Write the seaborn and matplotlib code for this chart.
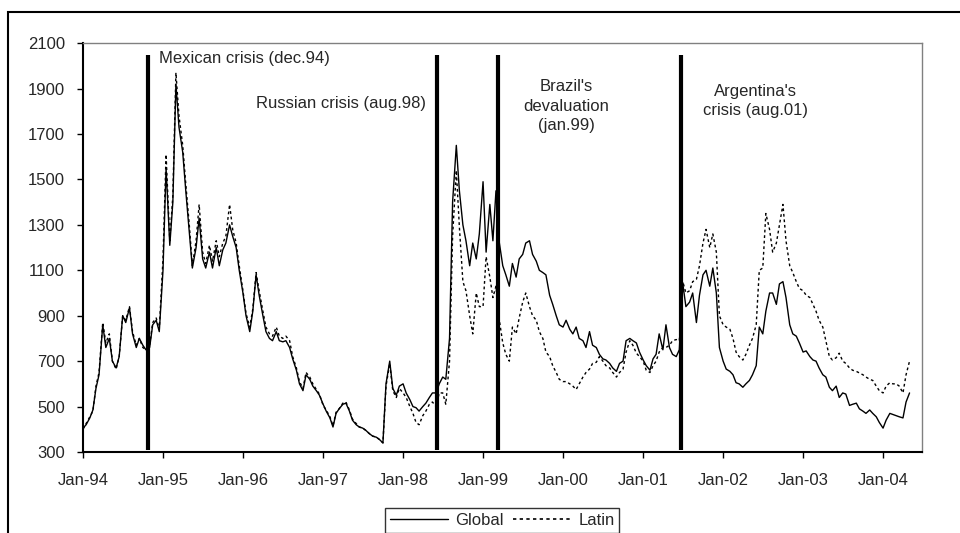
import pandas as pd
import seaborn as sns
import matplotlib.pyplot as plt
import matplotlib.dates as mdates
from matplotlib.lines import Line2D
from matplotlib.patches import Rectangle

# semi-monthly readings, Jan-94 .. Apr-04 (1st and 15th of each month)
global_spread = [
    405, 420, 450, 485, 580, 640, 860, 760, 800, 700, 670, 720,
    900, 870, 935, 820, 760, 800, 770, 750, 760, 860, 880, 830,
    1100, 1550, 1210, 1400, 1920, 1730, 1620, 1450, 1270, 1110, 1200, 1330,
    1150, 1110, 1180, 1110, 1200, 1120, 1190, 1220, 1300, 1250, 1200, 1100,
    1000, 900, 830, 920, 1080, 990, 900, 830, 800, 790, 830, 790,
    785, 790, 760, 710, 660, 600, 570, 640, 620, 590, 570, 550,
    510, 480, 450, 410, 470, 490, 510, 515, 480, 440, 420, 410,
    405, 395, 380, 370, 365, 355, 340, 600, 700, 580, 550, 590,
    600, 560, 530, 500, 495, 480, 500, 515, 540, 560, 560, 600,
    630, 620, 800, 1400, 1650, 1450, 1300, 1230, 1120, 1220, 1150, 1260,
    1490, 1180, 1390, 1230, 1450, 1230, 1120, 1080, 1030, 1130, 1070, 1150,
    1170, 1220, 1230, 1170, 1140, 1100, 1090, 1080, 990, 950, 900, 860,
    850, 880, 840, 820, 850, 800, 790, 760, 830, 770, 760, 730,
    710, 705, 690, 670, 655, 690, 700, 790, 800, 790, 780, 740,
    705, 680, 660, 710, 730, 820, 750, 860, 760, 730, 720, 750,
    1040, 940, 960, 1000, 870, 990, 1080, 1100, 1030, 1110, 1000, 760,
    700, 665, 655, 640, 605, 600, 585, 600, 615, 640, 680, 850,
    820, 920, 1000, 1000, 950, 1040, 1050, 980, 860, 820, 810, 780,
    740, 745, 720, 705, 700, 670, 640, 630, 585, 570, 590, 540,
    560, 555, 505, 510, 515, 490, 480, 470, 485, 470, 455, 430,
    405, 440, 470, 465, 460, 455, 450, 520, 560,
]
latin_spread = [
    400, 425, 455, 480, 590, 650, 870, 780, 820, 700, 665, 720,
    900, 880, 940, 830, 770, 800, 760, 750, 770, 870, 890, 840,
    1150, 1610, 1230, 1430, 1970, 1780, 1650, 1480, 1300, 1120, 1230, 1390,
    1180, 1130, 1210, 1140, 1230, 1160, 1220, 1250, 1390, 1280, 1220, 1120,
    1010, 910, 850, 930, 1090, 1010, 920, 850, 820, 810, 850, 810,
    800, 810, 790, 720, 670, 610, 580, 650, 630, 600, 575, 555,
    505, 485, 455, 415, 475, 490, 515, 520, 485, 445, 425, 410,
    405, 395, 380, 370, 365, 355, 340, 590, 690, 570, 540, 580,
    560, 540, 500, 470, 430, 420, 460, 480, 510, 520, 500, 560,
    560, 510, 700, 1250, 1540, 1290, 1050, 1010, 900, 820, 1000, 940,
    940, 1160, 1070, 980, 1030, 890, 780, 730, 700, 850, 820, 890,
    960, 1000, 940, 900, 880, 830, 800, 740, 720, 680, 650, 620,
    610, 610, 600, 590, 575, 600, 630, 650, 665, 690, 695, 720,
    700, 680, 670, 650, 630, 650, 665, 740, 790, 770, 735, 720,
    700, 660, 650, 680, 700, 740, 760, 760, 770, 790, 795, 790,
    1050, 1000, 1010, 1050, 1060, 1120, 1220, 1280, 1200, 1260, 1180, 900,
    860, 850, 840, 800, 740, 720, 705, 730, 770, 800, 860, 1100,
    1110, 1350, 1280, 1180, 1220, 1300, 1390, 1230, 1120, 1090, 1050, 1020,
    1010, 990, 980, 950, 920, 880, 850, 790, 720, 705, 715, 735,
    700, 690, 670, 660, 655, 648, 640, 630, 620, 615, 590, 570,
    560, 590, 605, 600, 600, 590, 560, 640, 700,
]
series_names = ['Global', 'Latin']

crisis_dates = ['1994-10-24', '1998-06-05', '1999-03-08', '2001-06-22']
crisis_labels = ['Mexican crisis (dec.94)', 'Russian crisis (aug.98)',
                 "Brazil's\ndevaluation\n(jan.99)", "Argentina's\ncrisis (aug.01)"]

dates = pd.date_range('1994-01-01', periods=len(global_spread), freq='SMS')
df = pd.DataFrame({'date': list(dates) * 2,
                   'spread': global_spread + latin_spread,
                   'series': ['Global'] * len(dates) + ['Latin'] * len(dates)})

sns.set_style('white')
plt.rcParams['font.family'] = ['Liberation Sans', 'DejaVu Sans']

fig = plt.figure(figsize=(9.6, 5.33), dpi=100)
ax = fig.add_axes([0.0865, 0.152, 0.8735, 0.767])

sns.lineplot(data=df, x='date', y='spread', hue='series', style='series',
             palette={'Global': 'black', 'Latin': 'black'},
             dashes={'Global': '', 'Latin': (2, 2)},
             linewidth=1.0, legend=False, ax=ax)

ax.vlines(pd.to_datetime(crisis_dates), 310, 2047, color='black', lw=3)

# crisis labels
ax.text(pd.Timestamp('1994-12-12'), 2034, crisis_labels[0], fontsize=12, va='center', ha='left')
ax.text(pd.Timestamp('1998-04-15'), 1836, crisis_labels[1], fontsize=12, va='center', ha='right')
ax.text(pd.Timestamp('2000-01-15'), 1823, crisis_labels[2], fontsize=12, va='center', ha='center',
        multialignment='center', linespacing=1.35)
ax.text(pd.Timestamp('2002-05-30'), 1847, crisis_labels[3], fontsize=12, va='center', ha='center',
        multialignment='center', linespacing=1.35)

ax.set_ylim(300, 2100)
ax.set_yticks(range(300, 2101, 200))
ax.set_xlim(pd.Timestamp('1994-01-01'), pd.Timestamp('2004-06-25'))
ax.xaxis.set_major_locator(mdates.YearLocator())
ax.xaxis.set_major_formatter(mdates.DateFormatter('%b-%y'))
ax.set_xlabel('')
ax.set_ylabel('')
ax.tick_params(axis='both', labelsize=12, direction='out', length=4, width=1, color='black',
               bottom=True, left=True)
ax.tick_params(axis='x', pad=11)
ax.tick_params(axis='y', pad=9)
for side in ['left', 'bottom']:
    ax.spines[side].set_color('black')
    ax.spines[side].set_linewidth(1.5)
for side in ['top', 'right']:
    ax.spines[side].set_color('#808080')
    ax.spines[side].set_linewidth(1)

handles = [Line2D([], [], color='black', lw=1.0),
           Line2D([], [], color='black', lw=1.2, linestyle=(0, (2, 2)))]
leg = fig.legend(handles, series_names, loc='upper center', bbox_to_anchor=(0.523, 0.047),
                 borderaxespad=0, ncol=2, fontsize=12, frameon=True, fancybox=False,
                 handlelength=3.5, columnspacing=0.6, handletextpad=0.4, borderpad=0.3)
leg.get_frame().set_edgecolor('black')
leg.get_frame().set_linewidth(1)

# outer chart frame (runs off the right and bottom edges)
fig.patches.append(Rectangle((0.0083, -0.1), 1.1, 1.0775, transform=fig.transFigure,
                             fill=False, edgecolor='black', lw=1.5, clip_on=False))

# title, cut off by the top edge as in the source image
fig.text(0.557, 1.009, 'Total EMBI spreads of emerging markets during crisis episodes',
         ha='center', va='baseline', fontsize=13)

fig.savefig('out.png', dpi=100)
